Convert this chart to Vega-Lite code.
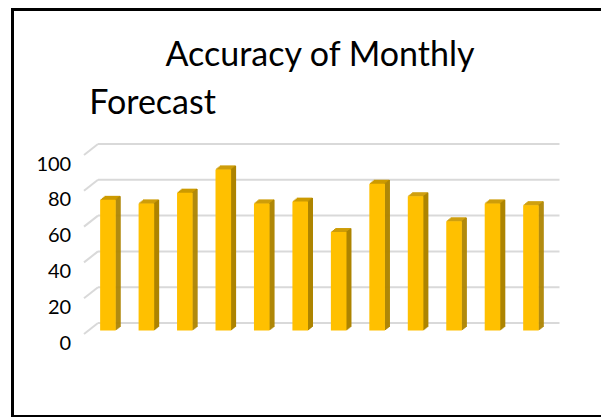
{
  "$schema": "https://vega.github.io/schema/vega-lite/v6.json",
  "width": 590,
  "height": 407,
  "autosize": {"type": "none"},
  "padding": {"left": 12.5, "top": 9.5, "right": -1.5, "bottom": 0.5},
  "background": "white",
  "config": {
    "view": {"stroke": "black", "strokeWidth": 3},
    "font": "Lato"
  },
  "title": {
    "text": "Accuracy of Monthly",
    "anchor": "start",
    "frame": "group",
    "offset": 0,
    "baseline": "alphabetic",
    "dx": 153,
    "dy": 90,
    "font": "Lato",
    "fontSize": 34,
    "fontWeight": "normal",
    "color": "black"
  },
  "datasets": {
    "months": [
      {"month": "Jan", "pct": 73},
      {"month": "Feb", "pct": 71},
      {"month": "Mar", "pct": 77},
      {"month": "Apr", "pct": 90},
      {"month": "May", "pct": 71},
      {"month": "Jun", "pct": 72},
      {"month": "Jul", "pct": 55},
      {"month": "Aug", "pct": 82},
      {"month": "Sep", "pct": 75},
      {"month": "Oct", "pct": 61},
      {"month": "Nov", "pct": 71},
      {"month": "Dec", "pct": 70}
    ],
    "gridlines": [
      {"pct": 0}, {"pct": 20}, {"pct": 40}, {"pct": 60}, {"pct": 80}, {"pct": 100}
    ]
  },
  "encoding": {
    "x": {
      "field": "month",
      "type": "nominal",
      "scale": {
        "domain": ["Jan", "Feb", "Mar", "Apr", "May", "Jun", "Jul", "Aug", "Sep", "Oct", "Nov", "Dec"],
        "range": [76.2, 537.7],
        "padding": 0
      },
      "axis": null
    },
    "y": {
      "field": "pct",
      "type": "quantitative",
      "scale": {"domain": [0, 100], "range": [321, 142], "nice": false, "zero": true},
      "axis": {
        "values": [0, 20, 40, 60, 80, 100],
        "domain": false,
        "ticks": false,
        "tickSize": 0,
        "grid": false,
        "offset": -58.2,
        "labelPadding": 0,
        "labelOffset": 12.5,
        "labelOverlap": false,
        "labelFlush": false,
        "labelFont": "Lato",
        "labelFontSize": 20,
        "labelColor": "black",
        "title": "Forecast",
        "titleAngle": 0,
        "titleAlign": "left",
        "titleBaseline": "alphabetic",
        "titleX": 18,
        "titleY": 103.5,
        "titleFont": "Lato",
        "titleFontSize": 34,
        "titleFontWeight": "normal",
        "titleColor": "black"
      }
    }
  },
  "layer": [
    {
      "data": {"name": "gridlines"},
      "mark": {"type": "rule", "color": "#d9d9d9", "strokeWidth": 2, "xOffset": 9.3, "x2Offset": 9.3, "yOffset": -7.5},
      "encoding": {
        "x": {"datum": "Jan", "bandPosition": 0},
        "x2": {"datum": "Dec", "bandPosition": 1}
      }
    },
    {
      "data": {"name": "gridlines"},
      "mark": {"type": "rule", "color": "#d9d9d9", "strokeWidth": 2, "xOffset": -4.7, "x2Offset": 9.3, "yOffset": 3.5, "y2Offset": -7.5},
      "encoding": {
        "x": {"datum": "Jan", "bandPosition": 0},
        "x2": {"datum": "Jan", "bandPosition": 0},
        "y2": {"field": "pct"}
      }
    },
    {
      "data": {"name": "months"},
      "mark": {"type": "bar", "color": "#CC9A00", "width": 15.6, "xOffset": 4.375, "yOffset": -4, "y2Offset": -2.5},
      "encoding": {"y2": {"field": "pct"}}
    },
    {
      "data": {"name": "months"},
      "mark": {"type": "bar", "color": "#CC9A00", "width": 15.6, "xOffset": 3.125, "yOffset": -3, "y2Offset": -1.5},
      "encoding": {"y2": {"field": "pct"}}
    },
    {
      "data": {"name": "months"},
      "mark": {"type": "bar", "color": "#CC9A00", "width": 15.6, "xOffset": 1.875, "yOffset": -2, "y2Offset": -0.5},
      "encoding": {"y2": {"field": "pct"}}
    },
    {
      "data": {"name": "months"},
      "mark": {"type": "bar", "color": "#CC9A00", "width": 15.6, "xOffset": 0.625, "yOffset": -1, "y2Offset": 0.5},
      "encoding": {"y2": {"field": "pct"}}
    },
    {
      "data": {"name": "months"},
      "mark": {"type": "bar", "color": "#AD8400", "width": 1.5, "xOffset": 12.05, "yOffset": -3.6, "y2Offset": -3.6}
    },
    {
      "data": {"name": "months"},
      "mark": {"type": "bar", "color": "#AD8400", "width": 1.5, "xOffset": 11.05, "yOffset": -2.8, "y2Offset": -2.8}
    },
    {
      "data": {"name": "months"},
      "mark": {"type": "bar", "color": "#AD8400", "width": 1.5, "xOffset": 10.05, "yOffset": -2, "y2Offset": -2}
    },
    {
      "data": {"name": "months"},
      "mark": {"type": "bar", "color": "#AD8400", "width": 1.5, "xOffset": 9.05, "yOffset": -1.2, "y2Offset": -1.2}
    },
    {
      "data": {"name": "months"},
      "mark": {"type": "bar", "color": "#AD8400", "width": 1.5, "xOffset": 8.05, "yOffset": -0.4, "y2Offset": -0.4}
    },
    {
      "data": {"name": "months"},
      "mark": {"type": "bar", "color": "#FFC000", "width": 15.6}
    }
  ]
}
